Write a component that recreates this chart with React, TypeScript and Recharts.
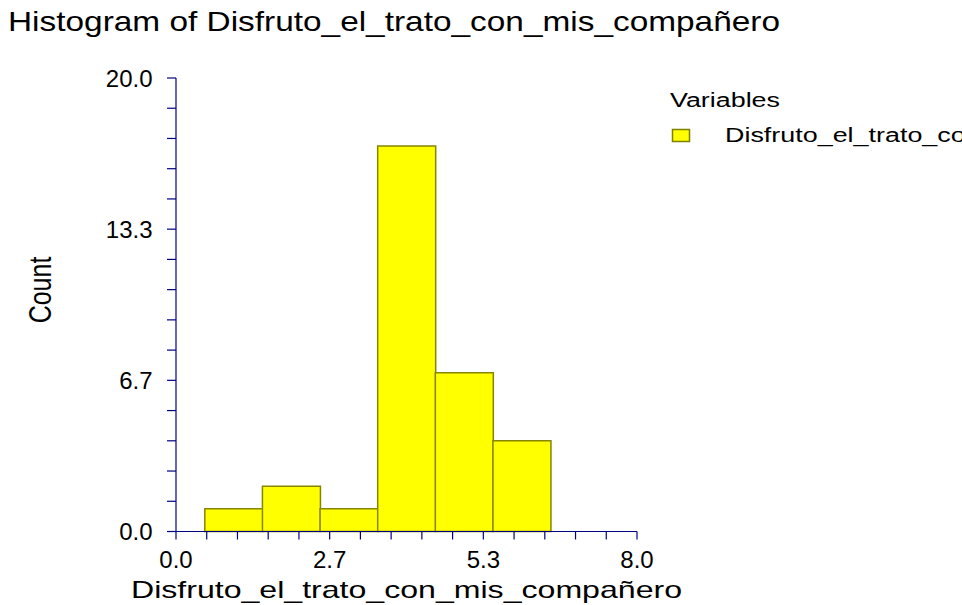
import React from "react";
import { BarChart, Bar, XAxis, YAxis, Legend } from "recharts";

const binMids = [1, 2, 3, 4, 5, 6];
const counts = [1, 2, 1, 17, 7, 4];
const xMajorTickLabels = ["0.0", "2.7", "5.3", "8.0"];
const yMajorTickLabels = ["0.0", "6.7", "13.3", "20.0"];
const seriesName = "Disfruto_el_trato_con_mis_compañero";
const chartTitle = "Histogram of Disfruto_el_trato_con_mis_compañero";
const xAxisTitle = "Disfruto_el_trato_con_mis_compañero";
const yAxisTitle = "Count";
const legendTitle = "Variables";

const X_MAX = 8;
const Y_MAX = 20;
const MINOR_STEPS = 15;

const data = binMids.map((m, i) => ({ mid: m, count: counts[i] }));
const xTicks = Array.from({ length: MINOR_STEPS + 1 }, (_, i) => (i * X_MAX) / MINOR_STEPS);
const yTicks = Array.from({ length: MINOR_STEPS + 1 }, (_, i) => (i * Y_MAX) / MINOR_STEPS);

const FONT = "'Liberation Sans', Arial, Helvetica, sans-serif";
const AXIS_COLOR = "#000080";

const XTick = (props: any) => {
  const { x, y, payload } = props;
  const idx = Math.round((payload.value * MINOR_STEPS) / X_MAX);
  if (idx % 5 !== 0) return null;
  return (
    <text x={x} y={y} dy={26} textAnchor="middle" fontSize={24} fill="#000" fontFamily={FONT}>
      {xMajorTickLabels[idx / 5]}
    </text>
  );
};

const YTick = (props: any) => {
  const { x, y, payload } = props;
  const idx = Math.round((payload.value * MINOR_STEPS) / Y_MAX);
  if (idx % 5 !== 0) return null;
  return (
    <text x={x} y={y} dy={8.5} textAnchor="end" fontSize={24} fill="#000" fontFamily={FONT}>
      {yMajorTickLabels[idx / 5]}
    </text>
  );
};

const XLabel = (props: any) => {
  const vb = props.viewBox || { x: 176, width: 461 };
  const cx = vb.x + vb.width / 2;
  return (
    <text
      x={cx - 275.5}
      y={598}
      fontSize={24}
      fill="#000"
      fontFamily={FONT}
      textLength={551}
      lengthAdjust="spacingAndGlyphs"
    >
      {xAxisTitle}
    </text>
  );
};

const YLabel = () => (
  <text
    transform="translate(51, 290) scale(1.22, 1) rotate(-90)"
    textAnchor="middle"
    fontSize={25}
    fill="#000"
    fontFamily={FONT}
  >
    {yAxisTitle}
  </text>
);

const LegendContent = (props: any) => {
  const item = props.payload && props.payload[0];
  const name = item ? item.value : seriesName;
  return (
    <svg width={302} height={80} style={{ display: "block", overflow: "hidden" }}>
      <text x={10} y={27} fontSize={19.5} fill="#000" fontFamily={FONT} textLength={110} lengthAdjust="spacingAndGlyphs">
        {legendTitle}
      </text>
      <rect x={12.5} y={49.5} width={17} height={12} fill="#FFFF00" stroke="#808000" strokeWidth={1.5} />
      <text x={65} y={62} fontSize={20} fill="#000" fontFamily={FONT} textLength={462} lengthAdjust="spacingAndGlyphs">
        {name}
      </text>
    </svg>
  );
};

export default function App() {
  return (
    <div
      style={{
        position: "absolute",
        left: 0,
        top: 0,
        width: 962,
        height: 605,
        background: "#fff",
        fontFamily: FONT,
        overflow: "hidden",
      }}
    >
      <svg width={962} height={50} style={{ position: "absolute", left: 0, top: 0 }}>
        <text x={8} y={31} fontSize={28} fill="#000" fontFamily={FONT} textLength={772} lengthAdjust="spacingAndGlyphs">
          {chartTitle}
        </text>
      </svg>
      <div style={{ position: "absolute", left: 0, top: 0 }}>
        <BarChart
          width={962}
          height={605}
          data={data}
          margin={{ top: 78, right: 325, bottom: 33.5, left: 96 }}
          barCategoryGap={0}
          barGap={0}
        >
          <XAxis
            type="number"
            dataKey="mid"
            domain={[0, X_MAX]}
            ticks={xTicks}
            interval={0}
            height={40}
            tickSize={8}
            tick={<XTick />}
            axisLine={{ stroke: AXIS_COLOR, strokeWidth: 1.2 }}
            tickLine={{ stroke: AXIS_COLOR, strokeWidth: 1.2 }}
            label={{ content: <XLabel /> } as any}
          />
          <YAxis
            type="number"
            domain={[0, Y_MAX]}
            ticks={yTicks}
            interval={0}
            width={80}
            tickSize={9}
            tickMargin={14.5}
            tick={<YTick />}
            axisLine={{ stroke: AXIS_COLOR, strokeWidth: 1.2 }}
            tickLine={{ stroke: AXIS_COLOR, strokeWidth: 1.2 }}
            label={{ content: <YLabel /> } as any}
          />
          <Legend
            layout="horizontal"
            verticalAlign="middle"
            align="center"
            width={302}
            height={80}
            wrapperStyle={{ left: 660, top: 80, width: 302, height: 80 }}
            content={<LegendContent />}
          />
          <Bar
            dataKey="count"
            name={seriesName}
            fill="#FFFF00"
            stroke="#858500"
            strokeWidth={1.5}
            isAnimationActive={false}
          />
        </BarChart>
      </div>
    </div>
  );
}
